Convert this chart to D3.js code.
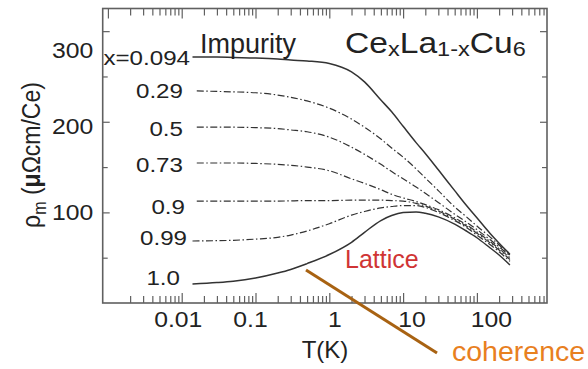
<!DOCTYPE html>
<html><head><meta charset="utf-8">
<script src="https://cdn.jsdelivr.net/npm/d3@7"></script>
<style>
body{margin:0;background:#fff}
svg{display:block}
text{font-family:"Liberation Sans",Arial,Helvetica,sans-serif}
</style>
</head><body>
<svg id="c" width="588" height="369"></svg>
<script>
// ---- data ----
const seriesLabels = ["x=0.094", "0.29", "0.5", "0.73", "0.9", "0.99", "1.0"];
const seriesDashed = [false, true, true, true, true, true, false];
const startTemps = [0.014, 0.016, 0.016, 0.016, 0.016, 0.014, 0.014];
const temps = [0.03, 0.05, 0.1, 0.2, 0.3, 0.5, 1, 2, 3, 5, 7, 10, 15, 20, 30, 50, 70, 100, 150, 200, 280];
const rho094 = [271.5, 271.5, 271, 270.4, 269.3, 268.2, 267.1, 264.3, 255, 244, 224, 211, 195, 177, 165, 147, 124, 109, 94, 77, 66, 54];
const rho029 = [234, 233.5, 233, 232, 229.5, 227, 223, 215, 203, 194, 181, 171, 161, 148, 138, 124, 106, 96, 85, 73, 64, 53];
const rho05  = [194, 194, 194, 193.5, 192.5, 191, 189, 183, 172, 164, 153, 145, 137, 128, 121, 111, 98, 90, 81, 70, 62, 52];
const rho073 = [154.5, 154.5, 154.5, 154, 153, 152, 150, 146, 137, 132, 125, 120, 116, 112, 108.5, 103, 94, 87, 78.5, 68, 60, 50];
const rho09  = [112.5, 112.5, 112.5, 112.5, 112.5, 112.7, 113, 113, 113.5, 113.5, 113.5, 113, 112.5, 110, 107, 101.5, 92.5, 85.5, 77, 66.5, 58.5, 48];
const rho099 = [68.4, 68.8, 69.2, 70.5, 72.5, 75, 79.5, 87.5, 97, 101, 105, 106.5, 107.5, 107.5, 105.5, 100, 91, 84, 75, 64.5, 56.5, 46];
const rho10  = [21, 22.5, 24, 27.5, 33, 37, 43.5, 53.5, 67, 78, 91, 96.5, 99.8, 100.5, 99, 95, 87, 80, 72, 61, 53, 42];
const xTickValues = [0.01, 0.1, 1, 10, 100];
const yTickValues = [100, 200, 300];
const yMinorValues = [50, 150, 250];

// ---- layout ----
const W = 588, H = 369;
const L = 102.7, R = 547, TOP = 8.5, BOT = 303;
const sx = 1.15; // horizontal text stretch seen in the reference
const svg = d3.select("#c");
svg.append("rect").attr("width", W).attr("height", H).attr("fill", "#fff");

const x = d3.scaleLog().domain([0.00085, 891]).range([L, R]);
const y = d3.scaleLinear().domain([0, 325]).range([BOT, TOP]);

const minors = [];
for (let e = -4; e <= 3; e++) for (let m = 2; m <= 9; m++) {
  const v = m * Math.pow(10, e);
  if (v >= 0.0012 && v <= 891) minors.push(v);
}

const axisColor = "#606060";
function styleAxis(g) {
  g.select(".domain").remove();
  g.selectAll(".tick line").attr("stroke", axisColor).attr("stroke-width", 1.2);
  g.attr("font-family", null).attr("font-size", null);
  g.selectAll(".tick text").attr("font-size", 21.5).attr("fill", "#222");
}

// bottom
const gxb = svg.append("g").attr("transform", `translate(0,${BOT})`)
  .call(d3.axisBottom(x).tickValues(xTickValues).tickSize(-10).tickPadding(9).tickFormat(d3.format("~g")))
  .call(styleAxis);
const xLabelShift = [-4, -5.5, 5, 8.5, 14];
gxb.selectAll(".tick text").attr("transform", `scale(${sx},1)`).attr("x", (d, i) => xLabelShift[i] / sx);
svg.append("g").attr("transform", `translate(0,${BOT})`)
  .call(d3.axisBottom(x).tickValues(minors).tickSize(-7).tickFormat(""))
  .call(styleAxis);
// top
svg.append("g").attr("transform", `translate(0,${TOP})`)
  .call(d3.axisTop(x).tickValues(xTickValues.concat([0.001])).tickSize(-10).tickFormat(""))
  .call(styleAxis);
svg.append("g").attr("transform", `translate(0,${TOP})`)
  .call(d3.axisTop(x).tickValues(minors).tickSize(-7).tickFormat(""))
  .call(styleAxis);
// left
const gyl = svg.append("g").attr("transform", `translate(${L},0)`)
  .call(d3.axisLeft(y).tickValues(yTickValues).tickSize(-7).tickPadding(8.2).tickFormat(d3.format("d")))
  .call(styleAxis);
const yLabelShift = [0, 5, 19];
gyl.selectAll(".tick text").attr("transform", `scale(${sx},1)`).attr("y", (d, i) => yLabelShift[i]);
svg.append("g").attr("transform", `translate(${L},0)`)
  .call(d3.axisLeft(y).tickValues(yMinorValues).tickSize(-5).tickFormat(""))
  .call(styleAxis);
// right
svg.append("g").attr("transform", `translate(${R},0)`)
  .call(d3.axisRight(y).tickValues(yTickValues).tickSize(-7).tickFormat(""))
  .call(styleAxis);
svg.append("g").attr("transform", `translate(${R},0)`)
  .call(d3.axisRight(y).tickValues(yMinorValues).tickSize(-5).tickFormat(""))
  .call(styleAxis);

// frame
svg.append("rect").attr("x", L).attr("y", TOP).attr("width", R - L).attr("height", BOT - TOP)
  .attr("fill", "none").attr("stroke", axisColor).attr("stroke-width", 1.6);

// curves
const series = [rho094, rho029, rho05, rho073, rho09, rho099, rho10];
const line = d3.line().x(d => x(d[0])).y(d => y(d[1])).curve(d3.curveMonotoneX);
series.forEach((vals, i) => {
  const ts = [startTemps[i]].concat(temps);
  const pts = ts.map((t, j) => [t, vals[j]]);
  svg.append("path").attr("d", line(pts)).attr("fill", "none")
    .attr("stroke", "#333")
    .attr("stroke-width", seriesDashed[i] ? 1.2 : 1.5)
    .attr("stroke-dasharray", seriesDashed[i] ? "7,2.5,1.5,2.5" : null);
});

// curve labels
const labelGap = [2.5, 13.8, 13.8, 13.8, 11.8, 5.5, 12.5];
const labelDy = [0, -1, 1.5, 1.5, 5, -4, -7];
seriesLabels.forEach((s, i) => {
  const lx = x(startTemps[i]) - labelGap[i];
  const ly = y(series[i][0]) + labelDy[i];
  svg.append("text").attr("transform", `translate(${lx},${ly}) scale(${sx},1)`)
    .attr("text-anchor", "end").attr("dy", "0.36em")
    .attr("font-size", 21).attr("fill", "#222").text(s);
});

// annotations
svg.append("text").attr("x", 200).attr("y", 53).attr("font-size", 27).attr("fill", "#222").text("Impurity");

const title = svg.append("text").attr("transform", `translate(345,53) scale(1.12,1)`)
  .attr("font-size", 30).attr("fill", "#222");
title.append("tspan").text("Ce");
title.append("tspan").attr("font-size", 21).attr("dy", 3).text("x");
title.append("tspan").attr("dy", -3).text("La");
title.append("tspan").attr("font-size", 21).attr("dy", 3).text("1-x");
title.append("tspan").attr("dy", -3).text("Cu");
title.append("tspan").attr("font-size", 21).attr("dy", 3).text("6");

svg.append("text").attr("x", 345).attr("y", 268).attr("font-size", 25).attr("fill", "#d03434").text("Lattice");

const yt = svg.append("text").attr("transform", `translate(40,155) scale(${sx},1) rotate(-90)`)
  .attr("text-anchor", "middle").attr("font-size", 23).attr("fill", "#222");
yt.append("tspan").text("ρ");
yt.append("tspan").attr("font-size", 16).attr("dy", 5).text("m");
yt.append("tspan").attr("dy", -5).text(" (");
yt.append("tspan").attr("font-weight", "bold").text("μ");
yt.append("tspan").text("Ωcm/Ce)");

svg.append("text").attr("x", 325).attr("y", 358).attr("text-anchor", "middle")
  .attr("font-size", 24).attr("fill", "#222").text("T(K)");

svg.append("line").attr("x1", 306).attr("y1", 270).attr("x2", 437).attr("y2", 353)
  .attr("stroke", "#a86212").attr("stroke-width", 3);
svg.append("text").attr("x", 452).attr("y", 361).attr("font-family", "'Open Sans', sans-serif")
  .attr("font-size", 28.5).attr("fill", "#e8801f").text("coherence");
</script>
</body></html>
